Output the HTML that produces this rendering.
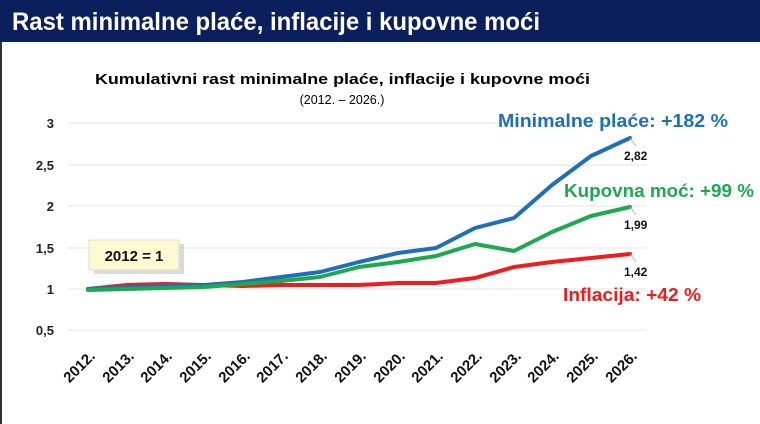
<!DOCTYPE html>
<html><head><meta charset="utf-8"><style>
html,body{margin:0;padding:0;width:760px;height:424px;overflow:hidden;background:#fff;font-family:"Liberation Sans",sans-serif}
</style></head><body>
<svg width="760" height="424" viewBox="0 0 760 424" xmlns="http://www.w3.org/2000/svg" font-family="Liberation Sans, sans-serif">
<rect x="0" y="0" width="760" height="42" fill="#0b1f5c"/>
<rect x="0" y="42" width="2" height="382" fill="#333"/>
<text x="12" y="30" fill="#fff" font-size="25" font-weight="bold" textLength="528" lengthAdjust="spacingAndGlyphs">Rast minimalne plaće, inflacije i kupovne moći</text>
<text x="95" y="84" fill="#000" font-size="15" font-weight="bold" textLength="495" lengthAdjust="spacingAndGlyphs">Kumulativni rast minimalne plaće, inflacije i kupovne moći</text>
<text x="342" y="104" fill="#000" font-size="12.5" text-anchor="middle">(2012. – 2026.)</text>
<g stroke="#e4e4e4" stroke-width="1">
<line x1="68" x2="647" y1="123" y2="123"/><line x1="68" x2="647" y1="165" y2="165"/><line x1="68" x2="647" y1="206" y2="206"/><line x1="68" x2="647" y1="248" y2="248"/><line x1="68" x2="647" y1="289" y2="289"/><line x1="68" x2="647" y1="330" y2="330"/>
</g>
<g font-size="13" font-weight="bold" text-anchor="end" fill="#222">
<text x="54" y="128">3</text><text x="54" y="170">2,5</text><text x="54" y="211">2</text><text x="54" y="253">1,5</text><text x="54" y="294">1</text><text x="54" y="335">0,5</text>
</g>
<g font-size="15" font-weight="bold" text-anchor="end" fill="#111">
<text transform="translate(96,357) rotate(-45)">2012.</text>
<text transform="translate(135,357) rotate(-45)">2013.</text>
<text transform="translate(173,357) rotate(-45)">2014.</text>
<text transform="translate(212,357) rotate(-45)">2015.</text>
<text transform="translate(251,357) rotate(-45)">2016.</text>
<text transform="translate(289,357) rotate(-45)">2017.</text>
<text transform="translate(328,357) rotate(-45)">2018.</text>
<text transform="translate(367,357) rotate(-45)">2019.</text>
<text transform="translate(406,357) rotate(-45)">2020.</text>
<text transform="translate(444,357) rotate(-45)">2021.</text>
<text transform="translate(483,357) rotate(-45)">2022.</text>
<text transform="translate(522,357) rotate(-45)">2023.</text>
<text transform="translate(560,357) rotate(-45)">2024.</text>
<text transform="translate(599,357) rotate(-45)">2025.</text>
<text transform="translate(638,357) rotate(-45)">2026.</text>
</g>
<g fill="none" stroke-width="4" stroke-linejoin="round" stroke-linecap="round">
<polyline stroke="#ee1c1c" points="88,289 127,285 165,284 204,285 243,286 281,285 320,285 359,285 398,283 436,283 475,278 514,267 552,262 591,258 630,254"/>
<polyline stroke="#1f6fb8" points="88,289 127,287 165,286 204,285 243,282 281,277 320,272 359,262 398,253 436,248 475,228 514,218 552,185 591,156 630,138"/>
<polyline stroke="#1ea84f" points="88,290 127,289 165,288 204,287 243,284 281,281 320,277 359,267 398,262 436,256 475,244 514,251 552,232 591,216 630,207"/>
</g>
<g stroke="#bbb" stroke-width="1"><line x1="630" y1="138" x2="636" y2="146"/><line x1="630" y1="207" x2="636" y2="215"/><line x1="630" y1="254" x2="636" y2="262"/></g>
<g font-size="12" font-weight="bold" fill="#111">
<text x="624" y="160">2,82</text><text x="624" y="229">1,99</text><text x="624" y="276">1,42</text>
</g>
<text x="498" y="127" fill="#1f6fb8" font-size="18" font-weight="bold" textLength="230" lengthAdjust="spacingAndGlyphs">Minimalne plaće: +182 %</text>
<text x="564" y="197" fill="#1ea84f" font-size="18" font-weight="bold" textLength="190" lengthAdjust="spacingAndGlyphs">Kupovna moć: +99 %</text>
<text x="563" y="301" fill="#ee1c1c" font-size="18" font-weight="bold" textLength="138" lengthAdjust="spacingAndGlyphs">Inflacija: +42 %</text>
<rect x="92" y="242" width="90" height="30" fill="#999" opacity="0.35" transform="translate(2,2)"/>
<rect x="89" y="240" width="90" height="30" fill="#fdf9d0" stroke="#ddd"/>
<text x="134" y="261" font-size="15" font-weight="bold" text-anchor="middle" fill="#111">2012 = 1</text>
</svg>
</body></html>
